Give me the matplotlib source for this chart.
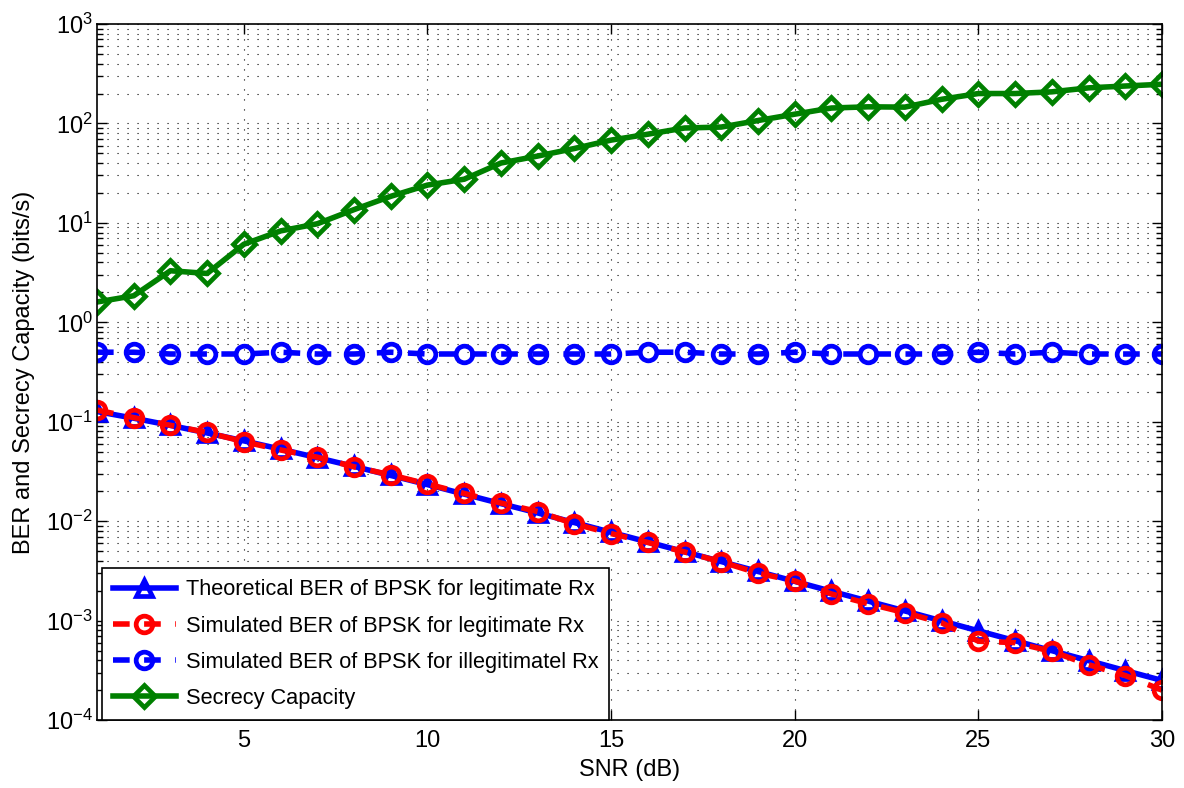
import matplotlib
matplotlib.use("Agg")
import matplotlib.pyplot as plt
from matplotlib.ticker import LogLocator, NullFormatter, FixedLocator

plt.rcParams['font.family'] = ['Liberation Sans', 'DejaVu Sans']
plt.rcParams['mathtext.fontset'] = 'custom'
plt.rcParams['mathtext.rm'] = 'Liberation Sans'
plt.rcParams['mathtext.it'] = 'Liberation Sans:italic'

snr_db = list(range(1, 31))

ber_theory = [0.1267, 0.1085, 0.0919, 0.0771, 0.0642, 0.0530, 0.0435, 0.0355,
              0.0288, 0.0233, 0.0187, 0.0150, 0.0121, 0.00967, 0.00772, 0.00617,
              0.00492, 0.00392, 0.00312, 0.00248, 0.00197, 0.00157, 0.00125,
              0.000993, 0.000789, 0.000627, 0.000498, 0.000396, 0.000314, 0.00025]

ber_sim_legit = [0.131, 0.110, 0.092, 0.078, 0.063, 0.052, 0.044, 0.0352,
                 0.0292, 0.0236, 0.0190, 0.0152, 0.0125, 0.0094, 0.0075, 0.0061,
                 0.0049, 0.0039, 0.0030, 0.00250, 0.00185, 0.00148, 0.00120,
                 0.00095, 0.00062, 0.00060, 0.00049, 0.00036, 0.00028, 0.00020]

ber_sim_illegit = [0.50, 0.50, 0.48, 0.48, 0.48, 0.50, 0.48, 0.48, 0.50, 0.48,
                   0.48, 0.48, 0.48, 0.48, 0.48, 0.50, 0.50, 0.48, 0.48, 0.50,
                   0.48, 0.48, 0.48, 0.48, 0.50, 0.48, 0.50, 0.48, 0.48, 0.48]

secrecy_cap = [1.6, 1.85, 3.3, 3.1, 6.1, 8.3, 9.8, 13.6, 18.5, 24.0, 27.5, 40.0,
               47.0, 56.0, 68.0, 78.0, 90.0, 92.0, 107.0, 124.0, 143.0, 147.0,
               146.0, 175.0, 200.0, 200.0, 208.0, 228.0, 238.0, 248.0]

x_ticks = [5, 10, 15, 20, 25, 30]

fig = plt.figure(figsize=(11.84, 7.88), dpi=100)
ax = fig.add_axes([0.0819, 0.0863, 0.8995, 0.8832])

lw = 4.0
ax.plot(snr_db, ber_theory, color='#0000ff', lw=lw, marker='^', ms=12,
        mfc='none', mew=3.4, label='Theoretical BER of BPSK for legitimate Rx')
ax.plot(snr_db, ber_sim_legit, color='#ff0000', lw=lw, dashes=(3.0, 2.6),
        marker='o', ms=12, mfc='none', mew=3.4,
        label='Simulated BER of BPSK for legitimate Rx')
ax.plot(snr_db, ber_sim_illegit, color='#0000ff', lw=lw, dashes=(3.0, 2.6),
        marker='o', ms=12, mfc='none', mew=3.4,
        label='Simulated BER of BPSK for illegitimatel Rx')
ax.plot(snr_db, secrecy_cap, color='#008000', lw=lw, marker='D', ms=11.5,
        mfc='none', mew=3.4, label='Secrecy Capacity')

ax.set_yscale('log')
ax.set_xlim(1, 30)
ax.set_ylim(1e-4, 1e3)
ax.xaxis.set_major_locator(FixedLocator(x_ticks))
ax.yaxis.set_major_locator(LogLocator(base=10, numticks=20))
ax.yaxis.set_minor_locator(LogLocator(base=10, subs=range(2, 10), numticks=100))
ax.yaxis.set_minor_formatter(NullFormatter())

grid_style = dict(color='black', linestyle=(0, (1, 8)), linewidth=0.8)
ax.grid(True, which='major', axis='both', **grid_style)
ax.grid(True, which='minor', axis='y', **grid_style)

ax.tick_params(which='both', direction='in', top=True, right=True,
               width=1.0, colors='black')
ax.tick_params(axis='x', which='major', labelsize=17, length=7, pad=7)
ax.tick_params(axis='y', which='major', labelsize=17, length=7, pad=3)
ax.tick_params(which='minor', length=4)
for s in ax.spines.values():
    s.set_linewidth(1.2)

ax.set_xlabel('SNR (dB)', fontsize=17, labelpad=5)
ax.set_ylabel('BER and Secrecy Capacity (bits/s)', fontsize=17, labelpad=8)

leg = ax.legend(loc='lower left', bbox_to_anchor=(0.0047, 0.0), fontsize=15.7,
                frameon=True, fancybox=False, borderaxespad=0.0,
                handlelength=2.9, borderpad=0.5, labelspacing=0.7,
                handletextpad=0.45)
leg.get_frame().set_edgecolor('black')
leg.get_frame().set_linewidth(1.2)
leg.get_frame().set_alpha(1)

fig.savefig('out.png', dpi=100)
